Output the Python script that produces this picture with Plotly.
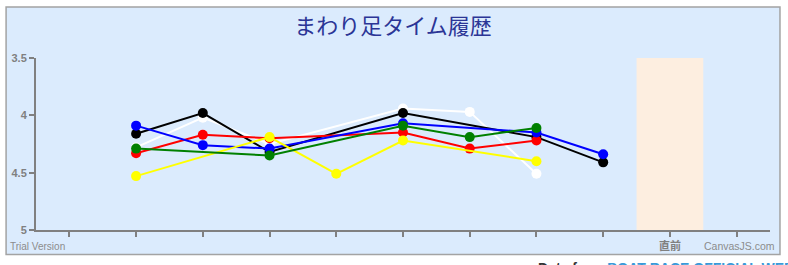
import plotly.graph_objects as go

# ---- data ----
tick_positions = [0, 1, 2, 3, 4, 5, 6, 7, 8, 9, 10]
tick_labels = ["", "", "", "", "", "", "", "", "", "直前", ""]
band_center = 9

white_x = [1, 2, 3, 5, 6, 7]
white_y = [4.28, 4.02, 4.25, 3.94, 3.97, 4.51]
black_x = [1, 2, 3, 5, 7, 8]
black_y = [4.16, 3.98, 4.32, 3.98, 4.19, 4.41]
red_x = [1, 2, 3, 5, 6, 7]
red_y = [4.33, 4.17, 4.20, 4.15, 4.29, 4.22]
blue_x = [1, 2, 3, 5, 7, 8]
blue_y = [4.09, 4.26, 4.29, 4.07, 4.15, 4.34]
yellow_x = [1, 3, 4, 5, 7]
yellow_y = [4.53, 4.19, 4.51, 4.22, 4.40]
green_x = [1, 3, 5, 6, 7]
green_y = [4.29, 4.35, 4.09, 4.19, 4.11]

series = [
    ("1", white_x, white_y, "#ffffff"),
    ("2", black_x, black_y, "#000000"),
    ("3", red_x, red_y, "#ff0000"),
    ("4", blue_x, blue_y, "#0000ff"),
    ("5", yellow_x, yellow_y, "#ffff00"),
    ("6", green_x, green_y, "#008000"),
]

W, H = 788, 265
L, R, T, B = 34, 770, 58, 233  # plot area pixels


def px(x):
    return (x - L) / (R - L)


def py(y):
    return (B - y) / (B - T)


fig = go.Figure()
for name, xs, ys, col in series:
    fig.add_trace(go.Scatter(
        x=xs, y=ys, mode="lines+markers", name=name,
        line=dict(color=col, width=2),
        marker=dict(color=col, size=10, line=dict(width=0)),
        showlegend=False, hoverinfo="skip",
    ))

shapes = [
    # chart card
    dict(type="rect", xref="paper", yref="paper",
         x0=px(4), x1=px(780), y0=py(258), y1=py(6),
         fillcolor="#dbebfd", line=dict(color="#a3a3a3", width=1.5),
         layer="below"),
    # highlight band
    dict(type="rect", xref="x", yref="paper",
         x0=band_center - 0.5, x1=band_center + 0.5, y0=0, y1=1,
         fillcolor="#fdeee0", line=dict(width=0), layer="below"),
]

annotations = [
    dict(text="Trial Version", xref="paper", yref="paper",
         x=px(6), y=py(250), xanchor="left", yanchor="middle", showarrow=False,
         font=dict(family="Liberation Sans", size=10, color="#8c8c8c")),
    dict(text="CanvasJS.com", xref="paper", yref="paper",
         x=px(777), y=py(249), xanchor="right", yanchor="middle", showarrow=False,
         font=dict(family="Liberation Sans", size=10.5, color="#8c8c8c")),
    dict(text="<b>Data from <span style='color:#3a9ad9'>BOAT RACE OFFICIAL WEB</span></b>",
         xref="paper", yref="paper",
         x=px(535), y=py(261), xanchor="left", yanchor="top", showarrow=False,
         font=dict(family="Liberation Sans", size=14, color="#333333")),
]

fig.update_layout(
    width=W, height=H,
    margin=dict(l=L, r=W - R, t=T, b=H - B, pad=0),
    paper_bgcolor="#ffffff",
    plot_bgcolor="rgba(0,0,0,0)",
    title=dict(text="まわり足タイム履歴", x=393 / W, xref="container", xanchor="center",
               y=1 - 26 / H, yref="container", yanchor="middle",
               font=dict(family="Noto Sans CJK JP", size=22, color="#2b3596")),
    xaxis=dict(range=[-0.5, 10.5], tickmode="array", tickvals=tick_positions,
               ticktext=["<b>%s</b>" % t if t else "" for t in tick_labels],
               showgrid=False, zeroline=False,
               showline=True, linecolor="#808080", linewidth=2,
               ticks="outside", ticklen=5, tickwidth=2, tickcolor="#808080",
               tickfont=dict(family="Noto Sans CJK JP", size=11, color="#808080")),
    yaxis=dict(range=[5, 3.5], tickmode="array", tickvals=[3.5, 4, 4.5, 5],
               ticktext=["<b>3.5</b>", "<b>4</b>", "<b>4.5</b>", "<b>5</b>"],
               showgrid=False, zeroline=False,
               showline=True, linecolor="#808080", linewidth=2,
               ticks="outside", ticklen=5, tickwidth=2, tickcolor="#808080",
               tickfont=dict(family="Liberation Sans", size=11, color="#808080")),
    shapes=shapes,
    annotations=annotations,
)

fig.write_html("out.html")
